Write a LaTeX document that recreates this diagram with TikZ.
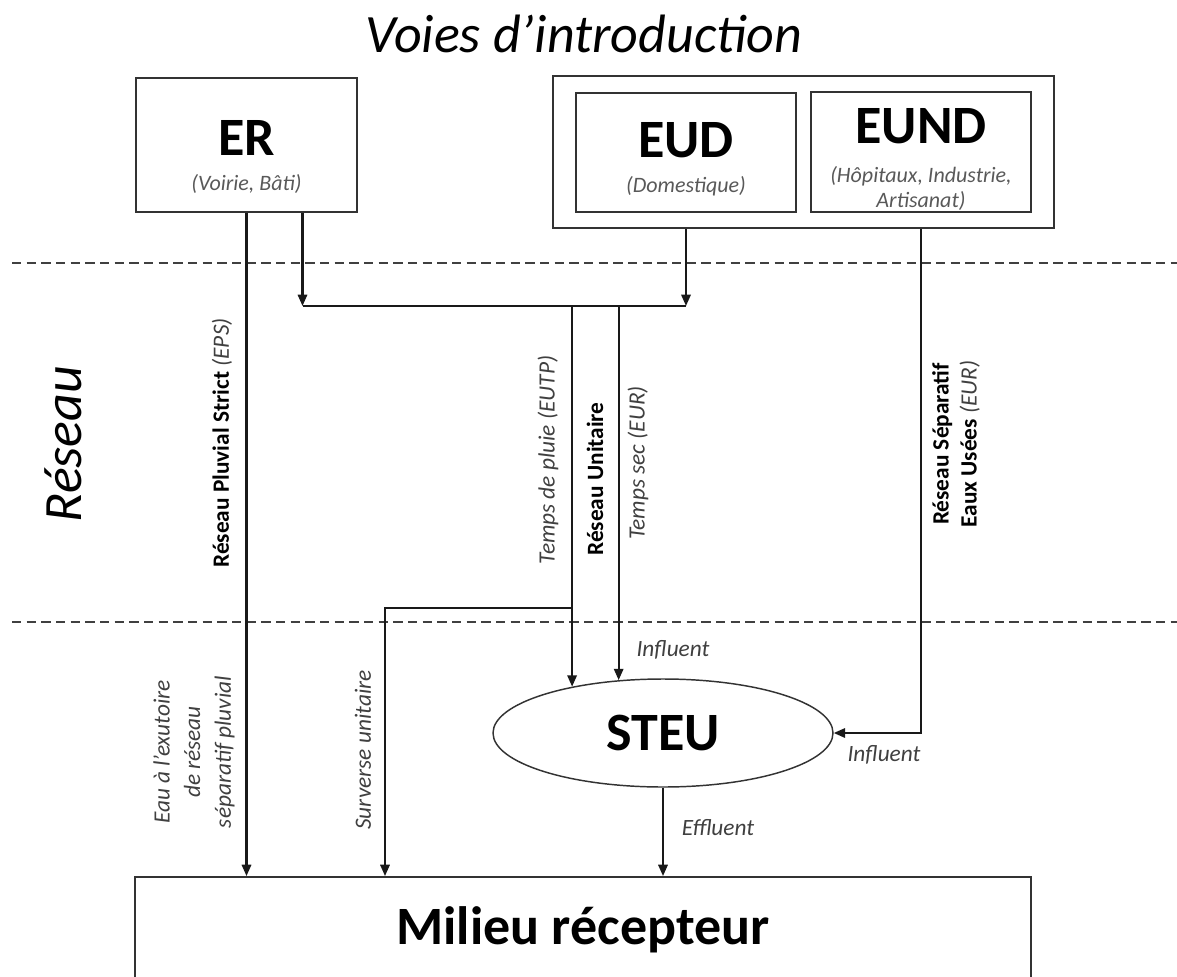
\documentclass[tikz,border=0pt]{standalone}
\usepackage{fontspec}
\setmainfont{Carlito}
\usetikzlibrary{arrows.meta, positioning, calc, fit, shapes.geometric}

\newcommand{\bigfnt}{\fontsize{40.5}{44}\selectfont}
\newcommand{\subfnt}{\fontsize{16.5}{19}\selectfont}
\newcommand{\lblfnt}{\fontsize{17.5}{21}\selectfont}
% big bold head of a box, with a strut to lift it
\newcommand{\head}[2]{{\bigfnt\bfseries\upshape\color{black}\rule{0pt}{#1}#2}}
\newcommand{\bfup}[1]{{\upshape\bfseries\color{black}#1}}

\begin{document}
\begin{tikzpicture}[
  x=0.75pt, y=-0.75pt,
  src/.style  = {draw=black!80, line width=1.4pt, minimum width=165pt,
                 minimum height=89.5pt, inner sep=0pt, align=center,
                 font=\subfnt\itshape, text=black!65},
  grp/.style  = {draw=black!80, line width=1.4pt},
  steu/.style = {ellipse, draw=black!80, line width=1.1pt, minimum width=255pt,
                 minimum height=81pt, inner sep=0pt, font=\bigfnt\bfseries},
  vlbl/.style = {rotate=90, font=\lblfnt\itshape, text=black!75,
                 align=center, inner sep=0pt},
  lbl/.style  = {font=\lblfnt\itshape, text=black!75, inner sep=0pt},
  arr/.style  = {-{Triangle[length=8.5pt, width=7pt]}, line width=1.6pt,
                 draw=black!90},
  wire/.style = {line width=1.6pt, draw=black!90},
  sep/.style  = {dash pattern=on 7pt off 4pt, line width=1.2pt, draw=black!75},
]
\useasboundingbox (0,0) rectangle (1177,977);
\clip (0,0) rectangle (1177,977);

% zones
\node[font=\bigfnt\itshape] (title) at (584,34) {Voies d’introduction};
\node[font=\bigfnt\itshape, rotate=90] (reseau) at (63,444) {Réseau};
\draw[sep] (12,263) -- (1177,263);
\draw[sep] (12,622) -- (1177,622);

% sources
\node[src, minimum width=166pt, minimum height=100.5pt] (er) at (246.5,145)
     {\head{44.7pt}{ER}\\[7.25pt](Voirie, Bâti)};
\node[src] (eud)  at (686,152.5) {\head{36.5pt}{EUD}\\[7.25pt](Domestique)};
\node[src] (eund) at (921,152)
     {\head{38pt}{EUND}\\[10.25pt](Hôpitaux, Industrie,\\Artisanat)};
\node[grp, fit=(eud)(eund), inner xsep=16.5pt, inner ysep=11.25pt] (grp) {};

% treatment and outlet
\node[steu] (steu) at (663,733) {STEU};
\node[draw=black!80, line width=1.4pt, minimum width=672pt, minimum height=79.5pt,
      font=\bigfnt\bfseries] (mil) at (583,930) {Milieu récepteur};

\coordinate (erdrop) at ($(er.south)+(56,0)$);
\coordinate (coll) at (573,306);
\coordinate (surv) at (385,608);

% pluvial strict
\draw[arr] (er.south) -- (er.south |- mil.north);
% unitaire
\draw[arr] (erdrop) -- (erdrop |- coll);
\draw[arr] (eud.south |- grp.south) -- (eud.south |- coll);
\draw[wire] (erdrop |- coll) -- (eud.south |- coll);
\draw[arr] (steu.153 |- coll) -- (steu.153);
\draw[arr] (steu.130 |- coll) -- (steu.130);
\draw[arr] (steu.153 |- surv) -- (surv) -- (surv |- mil.north);
% separatif eaux usees
\draw[arr] (eund.south |- grp.south) |- (steu.east);
% effluent
\draw[arr] (steu.south) -- (steu.south |- mil.north);

% labels
\node[vlbl] (l-eps)  at (222,443) {\bfup{Réseau Pluvial Strict} (EPS)};
\node[vlbl] (l-eutp) at (548,460) {Temps de pluie (EUTP)};
\node[vlbl] (l-unit) at (595,479) {\bfup{Réseau Unitaire}};
\node[vlbl] (l-eur)  at (638,463) {Temps sec (EUR)};
\node[vlbl] (l-sep)  at (956,444)
     {\bfup{Réseau Séparatif}\\\bfup{Eaux Usées} (EUR)};
\node[vlbl] (l-exut) at (194,752)
     {Eau à l’exutoire\\[2pt]de réseau\\[2pt]séparatif pluvial};
\node[vlbl] (l-surv) at (363,750) {Surverse unitaire};
\node[lbl] (l-in1) at (673,650) {Influent};
\node[lbl] (l-in2) at (884,755) {Influent};
\node[lbl] (l-eff) at (718,828) {Effluent};

\end{tikzpicture}
\end{document}
